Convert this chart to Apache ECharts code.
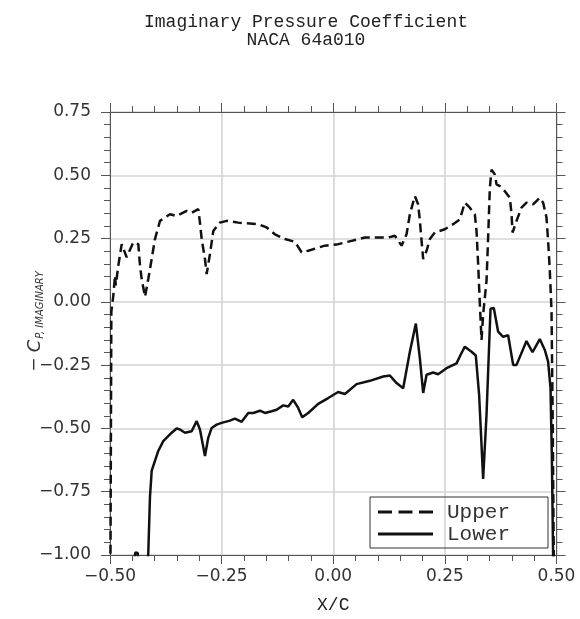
<!DOCTYPE html>
<html>
<head>
<meta charset="utf-8">
<script src="https://cdn.jsdelivr.net/npm/echarts@6/dist/echarts.min.js"></script>
<style>
html,body{margin:0;padding:0;background:#fff;}
#chart{width:580px;height:619px;}
</style>
</head>
<body>
<div id="chart"></div>
<script>
var titleLines = ['Imaginary Pressure Coefficient', 'NACA 64a010'];
var xTicks = [-0.5, -0.25, 0, 0.25, 0.5];
var yTicks = [-1.0, -0.75, -0.5, -0.25, 0, 0.25, 0.5, 0.75];
var seriesNames = ['Upper', 'Lower'];

var upperX = [-0.499,-0.497,-0.4926,-0.4888,-0.487,-0.4814,-0.4738,-0.4626,-0.4478,-0.4366,-0.4328,-0.429,-0.4216,-0.4143,-0.4066,-0.3993,-0.388,-0.3657,-0.3507,-0.3283,-0.3171,-0.3023,-0.2985,-0.2947,-0.2873,-0.2835,-0.2761,-0.2687,-0.2538,-0.2387,-0.2128,-0.168,-0.1492,-0.1306,-0.1082,-0.0859,-0.0709,-0.0561,-0.0187,0.0111,0.0411,0.0709,0.0932,0.123,0.138,0.153,0.1566,0.1642,0.1716,0.1828,0.1902,0.194,0.1978,0.2014,0.209,0.2164,0.2276,0.25,0.2685,0.2835,0.2947,0.3059,0.3171,0.3209,0.3245,0.3283,0.3321,0.3357,0.3433,0.3469,0.3507,0.3545,0.3619,0.3657,0.3731,0.3843,0.3955,0.3993,0.4016,0.4105,0.4216,0.4328,0.4476,0.4626,0.47,0.4776,0.4812,0.485,0.4888,0.4917,0.494];
var upperY = [-1.05,-0.04,0.025,0.104,0.065,0.143,0.228,0.176,0.235,0.228,0.143,0.09,0.02,0.09,0.17,0.248,0.32,0.346,0.339,0.359,0.352,0.366,0.313,0.248,0.169,0.11,0.189,0.28,0.313,0.32,0.313,0.307,0.294,0.267,0.248,0.237,0.196,0.202,0.222,0.228,0.241,0.254,0.254,0.254,0.261,0.222,0.215,0.267,0.346,0.418,0.385,0.32,0.241,0.169,0.202,0.248,0.274,0.287,0.307,0.326,0.392,0.372,0.346,0.28,0.15,-0.007,-0.15,-0.05,0.084,0.254,0.45,0.522,0.503,0.464,0.457,0.437,0.411,0.346,0.274,0.32,0.372,0.392,0.385,0.411,0.392,0.333,0.241,0.124,-0.033,-0.5,-1.05];

var lowerX = [-0.449,-0.443,-0.438,-0.435,-0.417,-0.4143,-0.4105,-0.4066,-0.3993,-0.3919,-0.3807,-0.3619,-0.3507,-0.3433,-0.3321,-0.3171,-0.3059,-0.2985,-0.2873,-0.28,-0.2723,-0.2611,-0.25,-0.2314,-0.2202,-0.2052,-0.1904,-0.1792,-0.1642,-0.153,-0.138,-0.1268,-0.112,-0.1008,-0.0897,-0.0785,-0.0695,-0.0561,-0.0337,-0.0113,0.0111,0.0261,0.0523,0.082,0.1118,0.1268,0.1418,0.1566,0.1716,0.185,0.194,0.2014,0.209,0.2238,0.2349,0.2538,0.2761,0.2851,0.2947,0.3097,0.3193,0.3267,0.3357,0.3433,0.3522,0.3596,0.3693,0.3804,0.3917,0.4029,0.4105,0.4328,0.4463,0.4626,0.4738,0.4812,0.4866,0.4895,0.4928];
var lowerY = [-1.05,-0.99,-0.992,-1.05,-1.05,-0.994,-0.772,-0.667,-0.628,-0.589,-0.55,-0.517,-0.5,-0.504,-0.517,-0.511,-0.471,-0.504,-0.609,-0.537,-0.498,-0.485,-0.478,-0.469,-0.461,-0.474,-0.439,-0.439,-0.43,-0.439,-0.432,-0.426,-0.409,-0.413,-0.387,-0.419,-0.456,-0.439,-0.403,-0.38,-0.356,-0.364,-0.325,-0.312,-0.295,-0.291,-0.321,-0.341,-0.197,-0.086,-0.223,-0.36,-0.288,-0.279,-0.286,-0.262,-0.243,-0.21,-0.177,-0.197,-0.212,-0.367,-0.70,-0.445,-0.027,-0.024,-0.118,-0.138,-0.132,-0.249,-0.249,-0.155,-0.199,-0.147,-0.19,-0.236,-0.341,-0.6,-1.05];

function zip(a, b) { return a.map(function (v, i) { return [v, b[i]]; }); }
function fmt(v) { var s = Math.abs(v).toFixed(2); return (v < -1e-9 ? '\u2212' : '') + s; }

var xMin = xTicks[0], xMax = xTicks[xTicks.length - 1], xInt = xTicks[1] - xTicks[0];
var yMin = yTicks[0], yMax = yTicks[yTicks.length - 1], yInt = yTicks[1] - yTicks[0];

var axisLineStyle = { color: '#555', width: 1 };
var gridLine = { show: true, lineStyle: { color: '#d4d4d4', width: 1.6 } };
var labelFont = { fontFamily: 'DejaVu Sans', fontSize: 17, color: '#333' };

var dashIcon = 'path://M0,0H14V3H0Z M20.5,0H34.5V3H20.5Z M41,0H55V3H41Z';
var solidIcon = 'path://M0,0H55V3H0Z';

var chart = echarts.init(document.getElementById('chart'), null, { renderer: 'canvas' });
chart.setOption({
  backgroundColor: '#fff',
  animation: false,
  title: {
    text: titleLines.join('\n'),
    left: 301,
    top: 8,
    textAlign: 'center',
    textStyle: { fontFamily: 'Liberation Mono', fontSize: 18, fontWeight: 'normal', color: '#222', lineHeight: 18 }
  },
  grid: { left: 110, right: 23.5, top: 112, height: 446, containLabel: false },
  legend: {
    data: [{ name: seriesNames[0], icon: dashIcon }, { name: seriesNames[1], icon: solidIcon }],
    orient: 'vertical',
    left: 370,
    top: 497,
    itemWidth: 55,
    itemHeight: 3,
    itemGap: 0,
    padding: [4, 38, 3, 8],
    borderColor: '#333',
    borderWidth: 1,
    borderRadius: 0,
    itemStyle: { color: '#111' },
    textStyle: { fontFamily: 'Liberation Mono', fontSize: 21, color: '#333', lineHeight: 22, padding: [0, 0, 0, 9] }
  },
  xAxis: [{
    type: 'value', min: xMin, max: xMax, interval: xInt, position: 'bottom',
    name: 'X/C', nameLocation: 'middle', nameGap: 41, nameMoveOverlap: false,
    nameTextStyle: { fontFamily: 'Liberation Mono', fontSize: 18, color: '#222' },
    axisLine: { show: true, onZero: false, lineStyle: axisLineStyle },
    axisTick: { show: true, inside: false, length: 9, lineStyle: axisLineStyle },
    minorTick: { show: true, splitNumber: 5, length: 6, lineStyle: axisLineStyle },
    axisLabel: Object.assign({ margin: 13, formatter: fmt }, labelFont),
    splitLine: gridLine
  }, {
    type: 'value', min: xMin, max: xMax, interval: xInt, position: 'top',
    axisLine: { show: true, onZero: false, lineStyle: axisLineStyle },
    axisTick: { show: true, inside: false, length: 9, lineStyle: axisLineStyle },
    minorTick: { show: true, splitNumber: 5, length: 6, lineStyle: axisLineStyle },
    axisLabel: { show: false },
    splitLine: { show: false }
  }],
  yAxis: [{
    type: 'value', min: yMin, max: yMax, interval: yInt, position: 'left',
    name: '{m|\u2212 }{c|C}{s|P, IMAGINARY}', nameLocation: 'middle', nameGap: 65, nameMoveOverlap: false,
    nameTextStyle: {
      padding: [0, 0, 0, 24],
      rich: {
        m: { fontFamily: 'DejaVu Sans', fontSize: 17, color: '#333' },
        c: { fontFamily: 'DejaVu Sans', fontStyle: 'italic', fontSize: 18, color: '#333' },
        s: { fontFamily: 'DejaVu Sans', fontStyle: 'italic', fontSize: 10, color: '#333', padding: [10, 0, 0, 1] }
      }
    },
    axisLine: { show: true, onZero: false, lineStyle: axisLineStyle },
    axisTick: { show: true, inside: false, length: 9, lineStyle: axisLineStyle },
    minorTick: { show: true, splitNumber: 5, length: 6, lineStyle: axisLineStyle },
    axisLabel: Object.assign({ margin: 19, formatter: fmt }, labelFont),
    splitLine: gridLine
  }, {
    type: 'value', min: yMin, max: yMax, interval: yInt, position: 'right',
    axisLine: { show: true, onZero: false, lineStyle: axisLineStyle },
    axisTick: { show: true, inside: false, length: 9, lineStyle: axisLineStyle },
    minorTick: { show: true, splitNumber: 5, length: 6, lineStyle: axisLineStyle },
    axisLabel: { show: false },
    splitLine: { show: false }
  }],
  series: [{
    name: seriesNames[0], type: 'line', xAxisIndex: 0, yAxisIndex: 0,
    data: zip(upperX, upperY), symbol: 'none', clip: true,
    itemStyle: { color: '#111' },
    lineStyle: { color: '#111', width: 2.5, type: [9, 5] }
  }, {
    name: seriesNames[1], type: 'line', xAxisIndex: 0, yAxisIndex: 0,
    data: zip(lowerX, lowerY), symbol: 'none', clip: true,
    itemStyle: { color: '#111' },
    lineStyle: { color: '#111', width: 2.5, type: 'solid' }
  }]
});
</script>
</body>
</html>
